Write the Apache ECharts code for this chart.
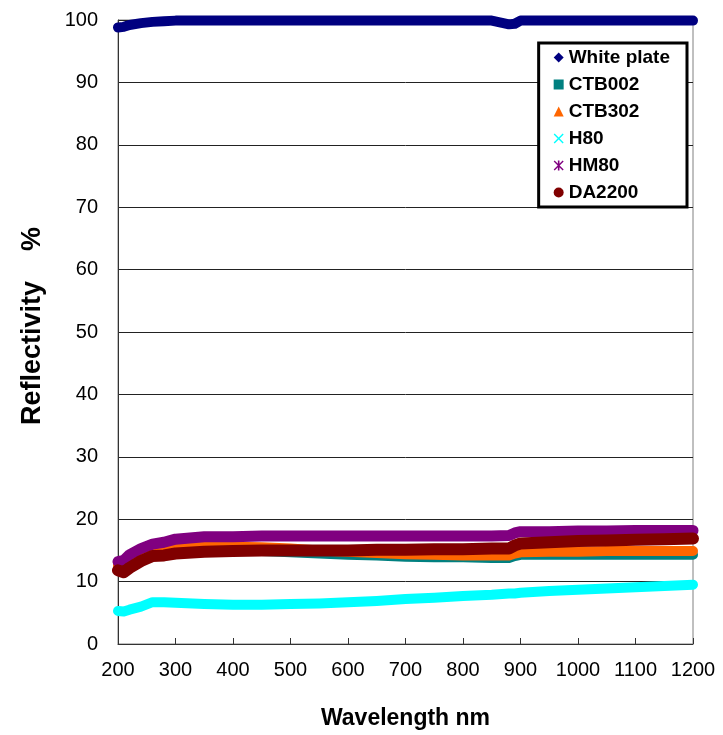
<!DOCTYPE html>
<html><head><meta charset="utf-8">
<script src="https://cdn.jsdelivr.net/npm/echarts@6/dist/echarts.min.js"></script>
<style>html,body{margin:0;padding:0;background:#fff}#c{width:723px;height:735px}</style>
</head><body><div id="c"></div>
<script>
var wavelengths = [200,210,220,240,260,280,300,350,400,450,500,550,600,650,700,750,800,850,880,890,900,950,1000,1050,1100,1150,1200];
var whitePlate = [98.8,98.9,99.2,99.5,99.7,99.8,99.9,99.9,99.9,99.9,99.9,99.9,99.9,99.9,99.9,99.9,99.9,99.9,99.3,99.4,99.9,99.9,99.9,99.9,99.9,99.9,99.9];
var ctb002 = [13.2,13.3,13.8,14.4,14.7,14.8,14.9,15.0,15.0,14.9,14.7,14.5,14.3,14.2,14.0,13.9,13.9,13.8,13.8,14.1,14.3,14.3,14.3,14.3,14.3,14.3,14.3];
var ctb302 = [12.6,12.8,13.5,14.4,15.0,15.1,15.4,15.6,15.6,15.5,15.3,15.0,14.8,14.6,14.4,14.3,14.2,14.2,14.2,14.5,14.7,14.8,14.8,14.9,14.9,14.9,14.9];
var h80 = [5.3,5.2,5.5,6.0,6.7,6.7,6.6,6.4,6.3,6.3,6.4,6.5,6.7,6.9,7.2,7.4,7.7,7.9,8.1,8.1,8.2,8.5,8.7,8.9,9.1,9.3,9.5];
var hm80 = [13.2,13.4,14.3,15.3,16.0,16.3,16.8,17.2,17.2,17.3,17.3,17.3,17.3,17.3,17.3,17.3,17.3,17.3,17.4,17.8,18.0,18.0,18.1,18.1,18.2,18.2,18.2];
var da2200 = [11.8,11.5,12.2,13.3,14.1,14.2,14.5,14.8,14.9,15.0,15.0,15.0,15.0,15.1,15.1,15.2,15.2,15.3,15.3,15.8,16.1,16.3,16.5,16.6,16.7,16.8,16.9];
var seriesNames = ['White plate','CTB002','CTB302','H80','HM80','DA2200'];
var xTitle = 'Wavelength nm';
var yTitle = 'Reflectivity    %';

var FONT = 'Liberation Sans';
var colors = ['#000080','#008080','#FF6600','#00FFFF','#800080','#800000'];
var icons = ['diamond','rect','triangle',
  'path://M1,0L5,4L9,0L10,1L6,5L10,9L9,10L5,6L1,10L0,9L4,5L0,1Z',
  'path://M1,0L5,4L9,0L10,1L6,5L10,9L9,10L5,6L1,10L0,9L4,5L0,1Z M4.2,0L5.8,0L5.8,10L4.2,10Z',
  'circle'];
var widths = [10,10,10,10,11,12];
var allData = [whitePlate, ctb002, ctb302, h80, hm80, da2200];

function pairs(arr){ return wavelengths.map(function(w,i){ return [w, arr[i]]; }); }

var series = allData.map(function(arr, i){
  return {
    name: seriesNames[i], type: 'line', data: pairs(arr),
    showSymbol: false, symbol: 'none', smooth: false,
    color: colors[i],
    lineStyle: { color: colors[i], width: widths[i], cap: 'round', join: 'round' },
    emphasis: { disabled: true }, animation: false
  };
});

var chart = echarts.init(document.getElementById('c'));
chart.setOption({
  animation: false,
  grid: { left: 118, right: 30, top: 20, bottom: 89, show: true, borderColor: '#808080', borderWidth: 1, containLabel: false },
  legend: {
    orient: 'vertical', right: 36, top: 43,
    data: seriesNames.map(function(n,i){ return { name: n, icon: icons[i], itemStyle: { color: colors[i] } }; }),
    itemWidth: 10, itemHeight: 10, itemGap: 8,
    padding: [5, 17, 5, 15],
    borderColor: '#000', borderWidth: 3, backgroundColor: '#fff',
    textStyle: { fontFamily: FONT, fontWeight: 'bold', fontSize: 19, color: '#000', lineHeight: 18 },
    selectedMode: false
  },
  xAxis: {
    type: 'value', min: 200, max: 1200, interval: 100,
    name: xTitle, nameLocation: 'middle', nameGap: 63,
    nameTextStyle: { fontFamily: FONT, fontWeight: 'bold', fontSize: 23, color: '#000' },
    axisLine: { show: true, lineStyle: { color: '#333', width: 1 } },
    axisTick: { show: true, inside: true, length: 6, lineStyle: { color: '#333' } },
    axisLabel: { fontFamily: FONT, fontSize: 20, color: '#000', margin: 16, formatter: function(v){ return String(v); } },
    splitLine: { show: false }
  },
  yAxis: {
    type: 'value', min: 0, max: 100, interval: 10,
    name: yTitle, nameLocation: 'middle', nameGap: 72, nameRotate: 90,
    nameTextStyle: { fontFamily: FONT, fontWeight: 'bold', fontSize: 27, color: '#000', padding: [0, 0, 0, 12] },
    axisLine: { show: true, lineStyle: { color: '#333', width: 1 } },
    axisTick: { show: false },
    axisLabel: { fontFamily: FONT, fontSize: 20, color: '#000', margin: 20 },
    splitLine: { show: true, lineStyle: { color: '#222', width: 1 } }
  },
  series: series
});
</script></body></html>
